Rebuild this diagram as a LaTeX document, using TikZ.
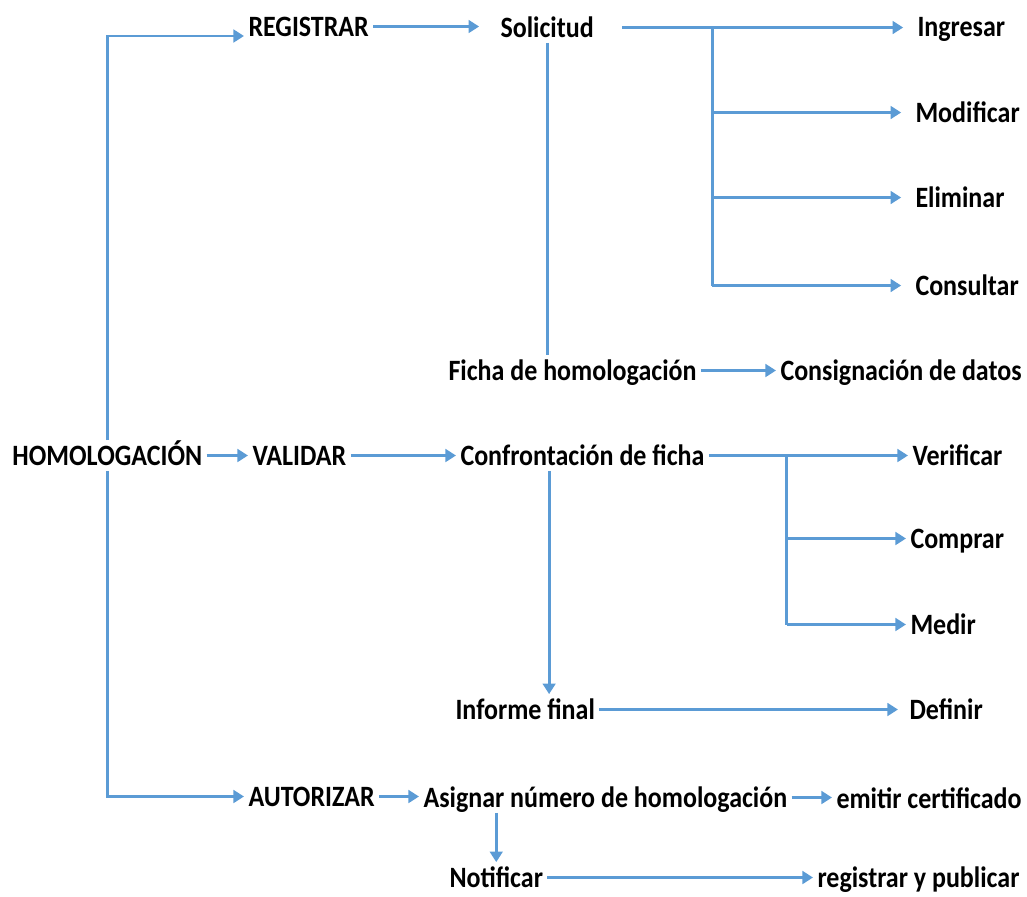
\documentclass[tikz,border=0pt]{standalone}
\usepackage{fontspec}
\setmainfont{Carlito}[FakeStretch=0.88]
\usepackage{tikz}
\usetikzlibrary{arrows.meta,positioning}
\definecolor{linkblue}{HTML}{5B9BD5}
\tikzset{
mapnode/.style={inner xsep=3pt,inner ysep=4pt,text height=13.5pt,text depth=0pt,
  anchor=base west,font=\fontsize{21}{24}\selectfont\bfseries},
mapline/.style={draw=linkblue,line width=2.1pt},
maparr/.style={mapline,-{Triangle[length=7.5pt,width=9pt]}}
}
\begin{document}
\begin{tikzpicture}[x=0.025cm,y=-0.025cm]
\useasboundingbox (0,0) rectangle (1027,896);
\node[mapnode] (hom) at (8,465) {HOMOLOGACIÓN};
\node[mapnode] (reg) at (244,36) {REGISTRAR};
\node[mapnode] (val) at (248,465) {VALIDAR};
\node[mapnode] (aut) at (244,806) {AUTORIZAR};
\node[mapnode] (sol) at (496,37) {Solicitud};
\node[mapnode] (ingr) at (913,36) {Ingresar};
\node[mapnode] (modi) at (911,122) {Modificar};
\node[mapnode] (elim) at (911,207) {Eliminar};
\node[mapnode] (cons) at (911,295) {Consultar};
\node[mapnode] (ficha) at (444,380) {Ficha de homologación};
\node[mapnode] (consig) at (776,380) {Consignación de datos};
\node[mapnode] (conf) at (456,465) {Confrontación de ficha};
\node[mapnode] (verif) at (908,465) {Verificar};
\node[mapnode] (comp) at (906,548) {Comprar};
\node[mapnode] (medir) at (906,634) {Medir};
\node[mapnode] (inf) at (451,719) {Informe final};
\node[mapnode] (defin) at (905,719) {Definir};
\node[mapnode] (asig) at (419,807) {Asignar número de homologación};
\node[mapnode] (emit) at (832,808) {emitir certificado};
\node[mapnode] (notif) at (445,887) {Notificar};
\node[mapnode] (regpub) at (813,887) {registrar y publicar};

\path ([xshift=17pt]sol.east) coordinate (solout);
\path (sol.east) ++(114,0) coordinate (solfork);
\path (conf.east) ++(78,0) coordinate (conffork);
\path ([xshift=17pt]inf.north) coordinate (infin);

\draw[maparr] (hom.north) |- (reg.base west);
\draw[maparr] (hom.east) -- (val.west);
\draw[maparr] (hom.south) |- (aut.west);
\draw[maparr,shorten >=12pt] (reg.east) -- (reg.east -| sol.west);
\draw[maparr,shorten >=7pt] (solout) -- (solout -| ingr.west);
\draw[mapline] (solfork) -- (solfork |- cons.west);
\foreach \n in {modi,elim,cons}
  \draw[maparr,shorten >=7pt] (solfork |- \n.west) -- (\n.west);
\draw[mapline] (sol.south) -- (sol.south |- ficha.north);
\draw[maparr] (ficha.east) -- (consig.west);
\draw[maparr] (val.east) -- (conf.west);
\draw[maparr] (conf.east) -- (verif.west);
\draw[mapline] (conffork) -- (conffork |- medir.west);
\foreach \n in {comp,medir}
  \draw[maparr] (conffork |- \n.west) -- (\n.west);
\draw[maparr] (infin |- conf.south) -- (infin);
\draw[maparr,shorten >=5pt] (inf.east) -- (defin.west);
\draw[maparr] (aut.east) -- (aut.east -| asig.west);
\draw[maparr] (asig.east) -- (asig.east -| emit.west);
\draw[maparr] (notif.north |- asig.south) -- (notif.north);
\draw[maparr] (notif.east) -- (regpub.west);
\end{tikzpicture}
\end{document}
